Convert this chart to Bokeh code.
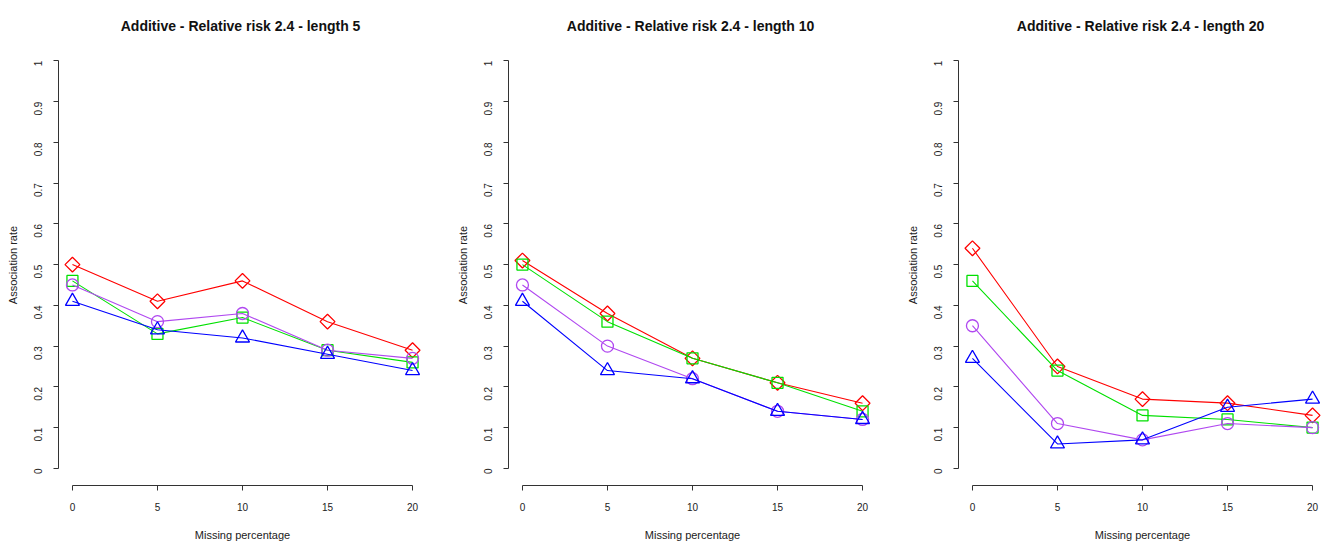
from bokeh.plotting import figure
from bokeh.layouts import row
from bokeh.models import Range1d, FixedTicker, CustomJSTickFormatter
from bokeh.embed import file_html
from bokeh.resources import INLINE
import math

missing = [0, 5, 10, 15, 20]
y_ticks = [0, 0.1, 0.2, 0.3, 0.4, 0.5, 0.6, 0.7, 0.8, 0.9, 1.0]
titles = ["Additive  - Relative risk 2.4 - length 5",
          "Additive  - Relative risk 2.4 - length 10",
          "Additive  - Relative risk 2.4 - length 20"]

red_5 = [0.50, 0.41, 0.46, 0.36, 0.29]
green_5 = [0.46, 0.33, 0.37, 0.29, 0.26]
purple_5 = [0.45, 0.36, 0.38, 0.29, 0.27]
blue_5 = [0.41, 0.34, 0.32, 0.28, 0.24]

red_10 = [0.51, 0.38, 0.27, 0.21, 0.16]
green_10 = [0.50, 0.36, 0.27, 0.21, 0.14]
purple_10 = [0.45, 0.30, 0.22, 0.14, 0.12]
blue_10 = [0.41, 0.24, 0.22, 0.14, 0.12]

red_20 = [0.54, 0.25, 0.17, 0.16, 0.13]
green_20 = [0.46, 0.24, 0.13, 0.12, 0.10]
purple_20 = [0.35, 0.11, 0.07, 0.11, 0.10]
blue_20 = [0.27, 0.06, 0.07, 0.15, 0.17]

panels = [
    (red_5, green_5, purple_5, blue_5),
    (red_10, green_10, purple_10, blue_10),
    (red_20, green_20, purple_20, blue_20),
]

RED = "#FF0000"
GREEN = "#00E000"
PURPLE = "#B048F0"
BLUE = "#0000FF"
FONT = "Liberation Sans"

fmt = CustomJSTickFormatter(code="return tick.toFixed(1).replace(/\\.0$/, '');")

figs = []
for i, (title, series) in enumerate(zip(titles, panels)):
    right_border = 24 if i < 2 else 4
    p = figure(frame_width=368, frame_height=441,
               min_border_left=58, min_border_right=right_border,
               min_border_top=44, min_border_bottom=56,
               x_range=Range1d(-0.82, 20.82), y_range=Range1d(-0.042, 1.04),
               output_backend="svg", toolbar_location=None)
    p.title.text = title
    p.title.align = "center"
    p.title.text_font = FONT
    p.title.text_font_style = "bold"
    p.title.text_font_size = "14px"
    p.title.text_color = "#111111"
    p.title.standoff = 21
    p.outline_line_color = None
    p.grid.grid_line_color = None
    p.background_fill_color = "white"
    p.border_fill_color = "white"

    for ax in (p.xaxis[0], p.yaxis[0]):
        ax.axis_line_color = "#333333"
        ax.major_tick_line_color = "#333333"
        ax.major_tick_out = 5
        ax.major_tick_in = 0
        ax.minor_tick_line_color = None
        ax.major_label_text_font = FONT
        ax.major_label_text_font_size = "10px"
        ax.major_label_text_color = "#222222"
        ax.axis_label_text_font = FONT
        ax.axis_label_text_font_size = "11px"
        ax.axis_label_text_font_style = "normal"
        ax.axis_label_text_color = "#222222"

    p.xaxis.ticker = FixedTicker(ticks=missing)
    p.xaxis.bounds = (min(missing), max(missing))
    p.xaxis.axis_label = "Missing percentage"
    p.xaxis.major_label_standoff = 12
    p.xaxis.axis_label_standoff = 15

    p.yaxis.ticker = FixedTicker(ticks=y_ticks)
    p.yaxis.bounds = (0, 1)
    p.yaxis.formatter = fmt
    p.yaxis.major_label_orientation = math.pi / 2
    p.yaxis.axis_label = "Association rate"
    p.yaxis.major_label_standoff = 15
    p.yaxis.axis_label_standoff = 9

    red, green, purple, blue = series
    p.line(missing, red, line_color=RED, line_width=1.1)
    p.scatter(missing, red, marker="square", angle=math.pi / 4, size=10.5,
              fill_color=None, line_color=RED, line_width=1.3)
    p.line(missing, green, line_color=GREEN, line_width=1.1)
    p.scatter(missing, green, marker="square", size=11, fill_color=None, line_color=GREEN, line_width=1.3)
    p.line(missing, purple, line_color=PURPLE, line_width=1.1)
    p.scatter(missing, purple, marker="circle", size=12, fill_color=None, line_color=PURPLE, line_width=1.3)
    p.line(missing, blue, line_color=BLUE, line_width=1.1)
    p.scatter(missing, blue, marker="triangle", size=14, fill_color=None, line_color=BLUE, line_width=1.3)
    figs.append(p)

layout = row(*figs, spacing=0)
open("out.html", "w").write(file_html(layout, INLINE))
